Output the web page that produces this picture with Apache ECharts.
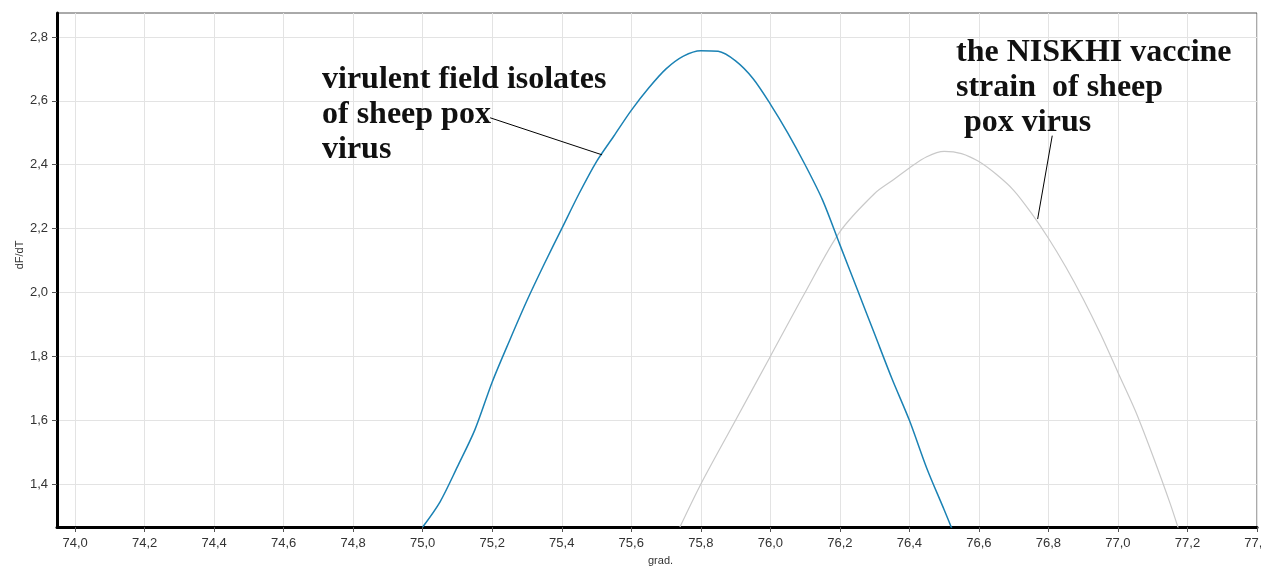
<!DOCTYPE html>
<html>
<head>
<meta charset="utf-8">
<script src="https://cdn.jsdelivr.net/npm/echarts@6/dist/echarts.min.js"></script>
<style>
html,body{margin:0;padding:0;background:#fff;}
#chart{width:1261px;height:569px;}
</style>
</head>
<body>
<div id="chart"></div>
<script>
// ---- data ----
const xTicks = [74.0, 74.2, 74.4, 74.6, 74.8, 75.0, 75.2, 75.4, 75.6, 75.8, 76.0, 76.2, 76.4, 76.6, 76.8, 77.0, 77.2, 77.4];
const yTicks = [1.4, 1.6, 1.8, 2.0, 2.2, 2.4, 2.6, 2.8];

const virulentX = [75.0, 75.05, 75.1, 75.15, 75.2, 75.25, 75.3, 75.35, 75.4, 75.45, 75.5, 75.55, 75.6, 75.65, 75.7, 75.75, 75.8, 75.85, 75.9, 75.95, 76.0, 76.05, 76.1, 76.15, 76.2, 76.25, 76.3, 76.35, 76.4, 76.45, 76.5, 76.53];
const virulentY = [1.266, 1.345, 1.455, 1.57, 1.72, 1.85, 1.975, 2.09, 2.20, 2.31, 2.41, 2.49, 2.57, 2.64, 2.70, 2.74, 2.757, 2.755, 2.725, 2.67, 2.59, 2.50, 2.40, 2.29, 2.15, 2.01, 1.87, 1.73, 1.60, 1.45, 1.32, 1.24];

const vaccineX = [75.74, 75.8, 75.9, 76.0, 76.1, 76.2, 76.3, 76.35, 76.4, 76.45, 76.5, 76.55, 76.6, 76.65, 76.7, 76.75, 76.8, 76.85, 76.9, 76.95, 77.0, 77.05, 77.1, 77.15, 77.18];
const vaccineY = [1.266, 1.40, 1.60, 1.80, 2.00, 2.19, 2.31, 2.35, 2.39, 2.425, 2.442, 2.435, 2.41, 2.37, 2.32, 2.25, 2.17, 2.08, 1.98, 1.87, 1.75, 1.63, 1.49, 1.34, 1.24];

const virulentLabel = "virulent field isolates\nof sheep pox\nvirus";
const vaccineLabel = "the NISKHI vaccine\nstrain  of sheep\n pox virus";
// leader lines in data coordinates [from, to]
const virulentLeader = [[75.194, 2.547], [75.516, 2.431]];
const vaccineLeader = [[76.811, 2.491], [76.769, 2.23]];

const fmt = v => v.toFixed(1).replace('.', ',');
const pairs = (xs, ys) => xs.map((x, i) => [x, ys[i]]);

const chart = echarts.init(document.getElementById('chart'), null, {renderer: 'canvas'});
const option = {
  animation: false,
  backgroundColor: '#ffffff',
  grid: {left: 57, right: 4, top: 13, bottom: 42, containLabel: false, outerBoundsMode: 'none',
    show: true, borderColor: '#555', borderWidth: 1, backgroundColor: 'transparent'},
  xAxis: {
    type: 'value', min: 73.948, max: 77.4,
    axisLine: {show: true, onZero: false, lineStyle: {color: '#000', width: 3}},
    axisTick: {show: true, length: 5, customValues: xTicks, lineStyle: {color: '#555'}},
    axisLabel: {customValues: xTicks, formatter: fmt, color: '#333', fontSize: 13, fontFamily: 'Liberation Sans', margin: 10, showMaxLabel: true, hideOverlap: false},
    splitLine: {show: true, lineStyle: {color: '#e3e3e3', width: 1}}
  },
  yAxis: {
    type: 'value', min: 1.266, max: 2.875,
    axisLine: {show: true, onZero: false, lineStyle: {color: '#000', width: 3}},
    axisTick: {show: true, length: 5, customValues: yTicks, lineStyle: {color: '#555'}},
    axisLabel: {customValues: yTicks, formatter: fmt, color: '#333', fontSize: 13, fontFamily: 'Liberation Sans', margin: 9},
    splitLine: {show: true, lineStyle: {color: '#e3e3e3', width: 1}}
  },
  series: [
    {
      name: 'virulent', type: 'line', data: pairs(virulentX, virulentY), smooth: 0.3, showSymbol: false,
      lineStyle: {color: '#1b82b4', width: 1.5}, clip: true, z: 3,
      markLine: {silent: true, symbol: ['none', 'none'], label: {show: false}, lineStyle: {color: '#000', width: 1, type: 'solid'},
        data: [[{coord: virulentLeader[0]}, {coord: virulentLeader[1]}]]}
    },
    {
      name: 'vaccine', type: 'line', data: pairs(vaccineX, vaccineY), smooth: 0.3, showSymbol: false,
      lineStyle: {color: '#c9c9c9', width: 1.2}, clip: true, z: 2,
      markLine: {silent: true, symbol: ['none', 'none'], label: {show: false}, lineStyle: {color: '#000', width: 1, type: 'solid'},
        data: [[{coord: vaccineLeader[0]}, {coord: vaccineLeader[1]}]]}
    }
  ],
  graphic: [
    {type: 'text', left: 322, top: 62, z: 10, style: {text: virulentLabel, font: 'bold 32px "Liberation Serif"', fill: '#111', lineHeight: 35}},
    {type: 'text', left: 956, top: 35, z: 10, style: {text: vaccineLabel, font: 'bold 32px "Liberation Serif"', fill: '#111', lineHeight: 35}},
    {type: 'text', x: 20, y: 255, rotation: Math.PI / 2, z: 10, style: {text: 'dF/dT', font: '11px "Liberation Sans"', fill: '#333', align: 'center', verticalAlign: 'middle'}},
    {type: 'text', x: 648, y: 561, z: 10, style: {text: 'grad.', font: '11px "Liberation Sans"', fill: '#333', align: 'left', verticalAlign: 'middle'}}
  ]
};
chart.setOption(option);
</script>
</body>
</html>
